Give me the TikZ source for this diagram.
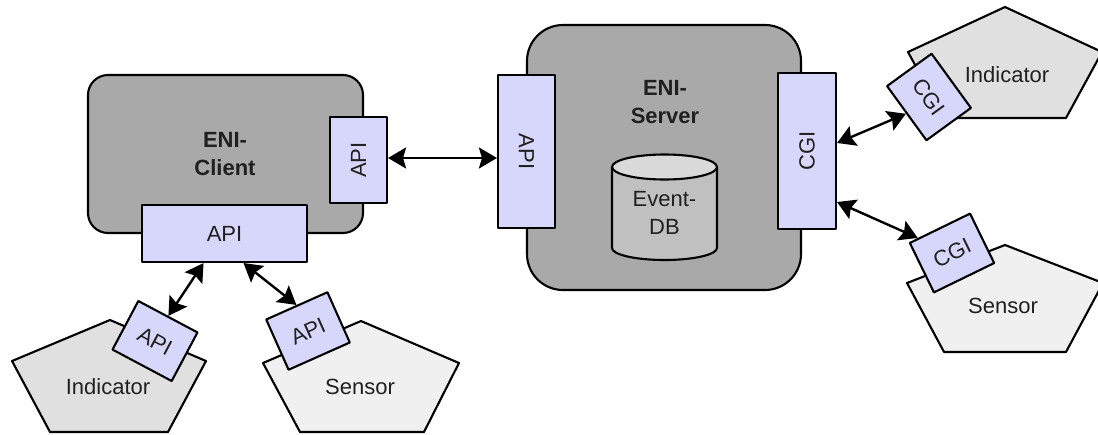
\documentclass[tikz,border=0pt]{standalone}
\usepackage{fontspec}
\setmainfont{Liberation Sans}
\usetikzlibrary{arrows.meta,calc}
\definecolor{boxgray}{HTML}{A9A9A9}
\definecolor{apifill}{HTML}{D7D7FB}
\definecolor{indfill}{HTML}{E0E0E0}
\definecolor{senfill}{HTML}{F0F0F0}
\definecolor{cylbody}{HTML}{C0C0C0}
\definecolor{cyltop}{HTML}{DADADA}
\definecolor{txt}{HTML}{202020}
\begin{document}
\begin{tikzpicture}[x=1pt,y=-1pt,
  every node/.style={font=\fontsize{22}{28}\selectfont, text=txt, inner sep=0pt, align=center},
  titletext/.style={font=\bfseries\fontsize{22}{28}\selectfont},
  outline/.style={draw=black, line width=2.1pt, line join=round},
  bigbox/.style={outline, fill=boxgray},
  apibox/.style={outline, fill=apifill},
  tab/.style={apibox, minimum width=67pt, minimum height=55pt},
  indshape/.style={outline, fill=indfill},
  senshape/.style={outline, fill=senfill},
  tip/.tip={Stealth[length=18pt,width=21pt,inset=3pt]},
  link/.style={line width=2.4pt, {tip}-{tip}}
]
\useasboundingbox (0,0) rectangle (1098,434);
\clip (0,0) rectangle (1098,434);

% ENI-Client
\node[bigbox, rounded corners=20pt, minimum width=275pt, minimum height=158pt] (client) at (225.5,154) {};
\node[titletext] (clienttxt) at (225,154) {ENI-\\Client};
\node[apibox, rotate=90, minimum width=86pt, minimum height=57pt] (capi) at (358.5,160) {API};
\node[apibox, minimum width=165pt, minimum height=57pt] (bapi) at (224.5,233.5) {API};

% ENI-Server
\node[bigbox, rounded corners=36pt, minimum width=274pt, minimum height=265pt] (server) at (664,157.5) {};
\node[titletext] (servertxt) at (665,102) {ENI-\\Server};
\filldraw[outline, fill=cylbody] (612,167) -- (612,248) arc[start angle=180, end angle=360, x radius=52.5pt, y radius=12pt] -- (717,167) -- cycle;
\filldraw[outline, fill=cyltop] (664.5,167) ellipse [x radius=52.5pt, y radius=12.5pt];
\node (dbtxt) at (664.5,213) {Event-\\DB};
\node[apibox, rotate=-90, minimum width=153pt, minimum height=57pt] (sapi) at (526.5,151.5) {API};
\node[apibox, rotate=90, minimum width=156pt, minimum height=58pt] (cgi) at (807,151) {CGI};

% right Indicator
\filldraw[indshape] (1005,7) -- (1102,52) -- (1066,118) -- (944,118) -- (908,52) -- cycle;
\node (rind) at (1007,75) {Indicator};
\node[tab, rotate=-54] (icgi) at (929,97) {CGI};

% right Sensor
\filldraw[senshape] (1005,245) -- (1103,283) -- (1066,352) -- (944,352) -- (907,283) -- cycle;
\node (rsen) at (1003,306) {Sensor};
\node[tab, rotate=26] (scgi) at (952,253) {CGI};

% left Indicator
\filldraw[indshape] (110,320) -- (206,361) -- (168,432) -- (50,432) -- (12,361) -- cycle;
\node (lind) at (108,387) {Indicator};
\node[tab, rotate=-28] (iapi) at (155,341) {API};

% left Sensor
\filldraw[senshape] (361,321) -- (459,363) -- (424,432) -- (300,432) -- (263,363) -- cycle;
\node (lsen) at (360,387) {Sensor};
\node[tab, rotate=24] (sapi2) at (308,331) {API};

% connectors
\draw[link] ([yshift=2pt]capi.south) -- ([yshift=2pt]capi.south -| sapi.south);
\draw[link] ([xshift=-21pt]bapi.south) -- (iapi.north);
\draw[link] ([xshift=19pt]bapi.south) -- (sapi2.north);
\draw[link] ([yshift=8pt]cgi.south) -- (icgi.south);
\draw[link] ([yshift=-51pt]cgi.south) -- ($(scgi.north west)!0.15!(scgi.north east)$);
\end{tikzpicture}
\end{document}
